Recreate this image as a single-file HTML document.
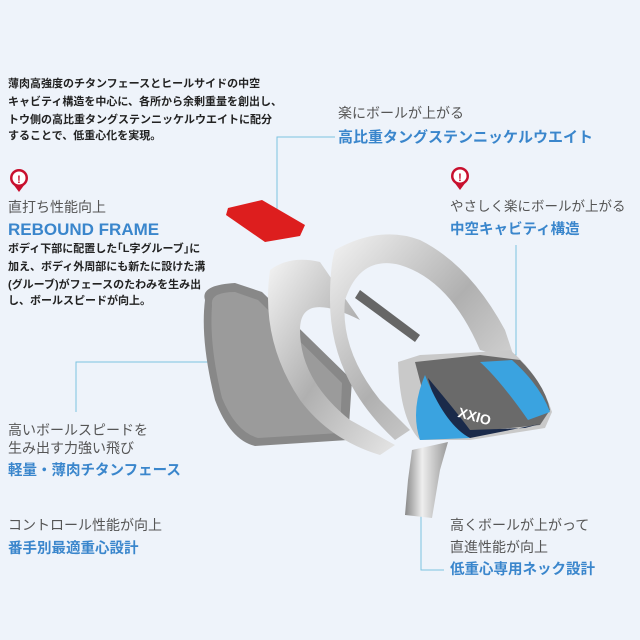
<!DOCTYPE html>
<html><head><meta charset="utf-8"><style>
body{margin:0;width:640px;height:640px;background:#eef3fa;position:relative;overflow:hidden;font-family:"Liberation Sans","Noto Sans CJK JP",sans-serif;}
.t{position:absolute;white-space:nowrap;line-height:1;}
.p{font-size:11px;color:#222;font-weight:bold;}
.g{font-size:14px;color:#555;}
.b{font-size:14.5px;color:#3a86cc;font-weight:bold;}
svg{position:absolute;left:0;top:0;}
</style></head><body>
<svg width="640" height="640" viewBox="0 0 640 640">
<defs>
<linearGradient id="s" x1="0" y1="0" x2="1" y2="1"><stop offset="0" stop-color="#f4f4f4"/><stop offset=".5" stop-color="#b0b0b0"/><stop offset="1" stop-color="#e6e6e6"/></linearGradient>
<linearGradient id="n" x1="0" y1="0" x2="1" y2="0"><stop offset="0" stop-color="#888"/><stop offset=".4" stop-color="#eee"/><stop offset="1" stop-color="#999"/></linearGradient>
</defs>
<g stroke="#7cc3e0" stroke-width="1" fill="none">
<polyline points="335,137 277,137 277,222"/>
<polyline points="516,245 516,355 482,355"/>
<polyline points="242,362 76,362 76,412"/>
<polyline points="421,490 421,570 444,570"/>
</g>
<path d="M228,208 L262,200 L305,225 L300,236 L265,242 L226,215 Z" fill="#dd1e1e"/>
<path d="M205,300 Q200,285 235,283 L262,292 L352,380 L348,440 L255,446 Q230,440 215,400 Q200,340 205,300 Z" fill="#888" />
<path d="M212,305 Q210,292 235,292 L258,300 L342,383 L340,433 L258,438 Q236,432 222,398 Q209,345 212,305 Z" fill="#9b9b9b"/>
<path d="M270,270 Q290,255 320,262 L360,320 Q300,290 300,330 Q300,380 350,420 L395,445 L380,455 Q330,440 300,400 Q260,340 270,270 Z" fill="url(#s)"/>
<path d="M335,250 Q380,225 420,240 Q470,265 505,330 L515,360 L480,350 Q450,280 400,265 Q360,255 345,300 Q340,350 380,400 L410,430 L395,440 Q330,380 330,300 Q330,265 335,250 Z" fill="url(#s)"/>
<path d="M360,290 L420,335 L415,342 L355,298 Z" fill="#666"/>
<path d="M412,450 L448,442 L440,470 L432,518 L405,515 L408,480 Z" fill="url(#n)"/>
<path d="M398,362 L420,355 L480,352 L510,350 Q540,375 552,412 L545,428 L470,440 L420,440 Q400,420 398,362 Z" fill="#c9c9c9"/>
<path d="M415,362 L480,355 L520,360 Q545,385 550,410 L540,425 L470,432 Q440,420 425,400 Z" fill="#6a6a6a"/>
<path d="M480,362 L512,360 Q540,385 550,412 L528,420 Q500,380 480,362 Z" fill="#3aa3e0"/>
<path d="M428,378 Q455,410 470,430 L525,428 L540,424 L470,438 Q440,425 428,378 Z" fill="#1a2a4a"/>
<path d="M425,375 Q445,425 470,438 L420,440 Q410,410 425,375 Z" fill="#3aa3e0"/>
<text x="458" y="420" font-family="Liberation Sans" font-weight="bold" font-size="14" fill="#fff" transform="rotate(15 470 415)">XXIO</text>
<g fill="#c8102e">
<circle cx="19" cy="178" r="9"/><path d="M13,184 L19,192 L25,184 Z"/>
<circle cx="460" cy="176" r="9"/><path d="M454,182 L460,190 L466,182 Z"/>
</g>
<circle cx="19" cy="178" r="6.5" fill="#fff"/><circle cx="460" cy="176" r="6.5" fill="#fff"/>
<text x="19" y="183" text-anchor="middle" font-size="11" font-weight="bold" fill="#c8102e" font-family="Liberation Sans">!</text>
<text x="460" y="181" text-anchor="middle" font-size="11" font-weight="bold" fill="#c8102e" font-family="Liberation Sans">!</text>
</svg>
<div class="t p" style="left:8px;top:79px">薄肉高強度のチタンフェースとヒールサイドの中空</div>
<div class="t p" style="left:8px;top:97px">キャビティ構造を中心に、各所から余剰重量を創出し、</div>
<div class="t p" style="left:8px;top:115px">トウ側の高比重タングステンニッケルウエイトに配分</div>
<div class="t p" style="left:8px;top:131px">することで、低重心化を実現。</div>
<div class="t g" style="left:8px;top:200px">直打ち性能向上</div>
<div class="t" style="left:8px;top:221px;font-size:17px;font-weight:bold;color:#3a86cc">REBOUND FRAME</div>
<div class="t p" style="left:8px;top:244px">ボディ下部に配置した｢L字グルーブ｣に</div>
<div class="t p" style="left:8px;top:262px">加え、ボディ外周部にも新たに設けた溝</div>
<div class="t p" style="left:8px;top:280px">(グルーブ)がフェースのたわみを生み出</div>
<div class="t p" style="left:8px;top:296px">し、ボールスピードが向上。</div>
<div class="t g" style="left:338px;top:106px">楽にボールが上がる</div>
<div class="t b" style="left:338px;top:130px;font-size:15px">高比重タングステンニッケルウエイト</div>
<div class="t g" style="left:450px;top:200px;font-size:13.5px">やさしく楽にボールが上がる</div>
<div class="t b" style="left:450px;top:223px">中空キャビティ構造</div>
<div class="t g" style="left:8px;top:423px">高いボールスピードを</div>
<div class="t g" style="left:8px;top:441px">生み出す力強い飛び</div>
<div class="t b" style="left:8px;top:464px">軽量・薄肉チタンフェース</div>
<div class="t g" style="left:8px;top:518px">コントロール性能が向上</div>
<div class="t b" style="left:8px;top:542px">番手別最適重心設計</div>
<div class="t g" style="left:450px;top:518px">高くボールが上がって</div>
<div class="t g" style="left:450px;top:540px">直進性能が向上</div>
<div class="t b" style="left:450px;top:563px">低重心専用ネック設計</div>
</body></html>
